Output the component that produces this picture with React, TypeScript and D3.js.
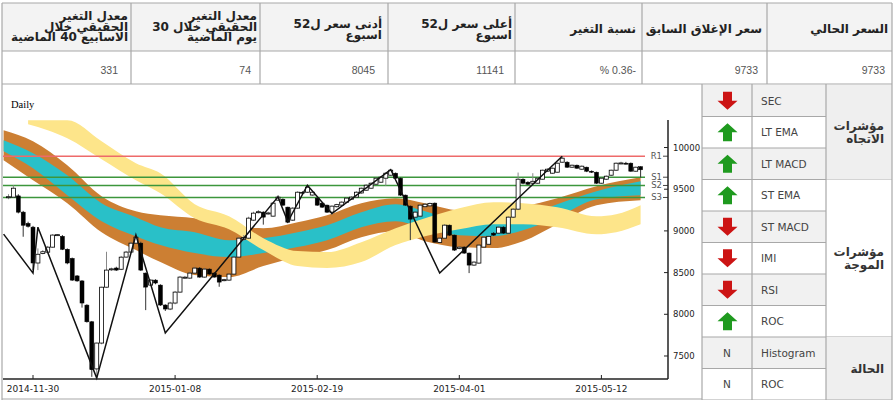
import React from "react";
import * as d3 from "d3";

// ---------- DATA ----------
const opens = [9400,9405,9420,9225,9090,9045,8615,8730,8745,8805,8945,8935,8780,8670,8460,8400,8110,7910,7345,7655,8325,8535,8555,8540,8686,8746,8853,8853,8494,8350,8410,8350,8111,8063,8135,8266,8435,8434,8494,8554,8446,8542,8494,8470,8405,8410,8482,8686,8900,8913,9129,9220,9225,9205,9177,9369,9380,9285,9129,9273,9464,9464,9430,9393,9333,9309,9225,9290,9309,9345,9380,9405,9455,9488,9512,9560,9584,9632,9668,9692,9632,9429,9297,9165,9177,9290,9300,9333,8860,8913,9069,8949,8790,8806,8734,8590,8614,8806,8840,8973,8973,9045,8973,9165,9261,9620,9584,9572,9572,9620,9716,9692,9704,9824,9824,9764,9788,9740,9764,9716,9704,9572,9620,9668,9728,9812,9812,9812,9716,9770];
const highs = [9440,9548,9440,9240,9110,9060,8790,8770,8820,8960,8960,8950,8790,8680,8470,8410,8120,7920,7660,8330,8750,8560,8570,8700,8760,8870,8950,8870,8500,8420,8420,8360,8120,8150,8280,8460,8460,8510,8570,8565,8555,8550,8505,8480,8425,8490,8700,8925,8950,9170,9230,9250,9235,9230,9345,9430,9390,9290,9285,9475,9475,9548,9480,9400,9340,9315,9305,9325,9355,9400,9415,9475,9520,9560,9580,9640,9655,9700,9740,9700,9640,9435,9305,9235,9320,9335,9340,9340,8920,9080,9075,8955,8815,8815,8740,8635,8840,8935,8945,8985,9055,9055,9175,9270,9700,9630,9595,9692,9640,9735,9750,9760,9820,9896,9835,9795,9795,9785,9770,9725,9710,9640,9665,9735,9820,9830,9828,9820,9770,9775];
const lows = [9380,9395,9210,8930,9040,8530,8530,8720,8735,8800,8940,8770,8600,8400,8390,8080,7900,7250,7235,7640,8320,8520,8520,8530,8680,8740,8845,8520,8050,8340,8360,8100,8040,8050,8120,8260,8425,8425,8485,8440,8440,8475,8440,8330,8395,8400,8475,8680,8880,8905,9120,9210,9075,9195,9170,9360,9300,9095,9120,9265,9445,9455,9420,9300,9275,9215,9190,9280,9300,9335,9370,9395,9445,9480,9505,9550,9575,9540,9660,9625,9420,9300,8890,9155,9170,9280,9290,8860,8850,8905,8940,8760,8780,8725,8494,8580,8605,8800,8830,8940,8965,8965,8965,9155,9250,9560,9550,9565,9565,9615,9710,9685,9700,9815,9755,9755,9745,9730,9705,9695,9565,9565,9610,9660,9720,9800,9798,9710,9710,9640];
const closes = [9410,9512,9225,9068,9055,8615,8720,8750,8805,8950,8955,8780,8615,8410,8400,8135,7910,7335,7655,8325,8530,8545,8530,8685,8746,8853,8925,8530,8326,8410,8375,8111,8063,8135,8266,8446,8445,8494,8554,8446,8542,8482,8446,8386,8415,8482,8686,8913,8920,9153,9213,9230,9165,9215,9333,9405,9309,9105,9273,9464,9455,9524,9464,9309,9285,9225,9297,9315,9345,9393,9405,9464,9512,9548,9572,9632,9644,9692,9728,9632,9429,9309,9141,9225,9309,9320,9330,8865,8913,9069,8949,8770,8805,8734,8590,8626,8830,8925,8935,8949,9045,8973,9165,9261,9620,9572,9560,9595,9632,9728,9740,9752,9812,9872,9764,9788,9752,9776,9716,9704,9572,9632,9656,9728,9812,9815,9810,9716,9764,9733];

const xTickIndex = [5, 34, 63, 92, 121];
const xTickLabels = ["2014-11-30", "2015-01-08", "2015-02-19", "2015-04-01", "2015-05-12"];
const yTicks = [7500, 8000, 8500, 9000, 9500, 10000];

const bandIndex = [-1, 5, 12, 19, 26, 31, 38, 45, 52, 59, 65, 72, 79, 85, 92, 99, 105, 112, 120, 129];
const outerTop = [10207,10075,9788,9417,9237,9189,9153,9057,9033,9105,9189,9333,9393,9333,9249,9261,9297,9393,9536,9644];
const innerTop = [10087,9932,9668,9333,9165,9045,8985,8889,8913,8985,9069,9225,9321,9237,9129,9117,9165,9321,9477,9596];
const innerBottom = [9956,9752,9429,9117,8937,8830,8734,8686,8734,8806,8889,9045,9117,9033,8949,8937,9009,9165,9381,9429];
const outerBottom = [9848,9608,9333,8985,8770,8626,8470,8446,8578,8686,8770,8925,8997,8877,8806,8794,8877,9081,9309,9369];

const cloudIndex = [4, 8, 12, 19, 26, 31, 38, 45, 52, 59, 65, 72, 79, 85, 92, 99, 105, 112, 120, 124, 129];
const cloudTop = [10327,10327,10327,10075,9812,9692,9321,9177,8913,8758,8746,8865,9033,9153,9273,9345,9333,9285,9177,9201,9309];
const cloudBottom = [10279,10207,10111,9860,9608,9453,9153,9021,8770,8578,8554,8626,8830,8937,9021,9081,9081,9045,8961,8985,9081];

const zigzagIndex = [-1, 5, 6, 18, 26, 32, 55, 57, 61, 66, 78, 88, 113];
const zigzagValue = [8961, 8494, 9045, 7235, 8950, 7775, 9408, 9109, 9548, 9209, 9736, 8494, 9896];

const levelNames = ["R1", "S1", "S2", "S3"];
const levelValues = [9896, 9644, 9545, 9401];
const levelColors = ["#ee6a6a", "#3c963c", "#3c963c", "#3c963c"];

// top table
const headerLines = [
  ["معدل التغير", "الحقيقي خلال", "الاسابيع 40 الماضية"],
  ["معدل التغير", "الحقيقي خلال 30", "يوم الماضية"],
  ["أدنى سعر ل52", "اسبوع"],
  ["أعلى سعر ل52", "اسبوع"],
  ["نسبة التغير"],
  ["سعر الإغلاق السابق"],
  ["السعر الحالي"],
];
const headerValues = ["331", "74", "8045", "11141", "% 0.36-", "9733", "9733"];

// indicator table
const indicatorNames = ["SEC", "LT EMA", "LT MACD", "ST EMA", "ST MACD", "IMI", "RSI", "ROC", "Histogram", "ROC"];
const indicatorSignals = ["down", "up", "up", "up", "down", "down", "down", "up", "N", "N"];
const groupLabels = [["مؤشرات", "الاتجاه"], ["مؤشرات", "الموجة"], ["الحالة"]];
const groupSpans = [[0, 3], [3, 8], [8, 10]];

// ---------- LAYOUT ----------
const W = 893, H = 400;
const colX = [2, 131, 260, 388, 515, 642, 767, 892];
const valueRight = [118, 251, 375, 504, 636, 758, 885];
const headerRight = [128, 257, 382, 512, 636, 762, 888];
const AR = "DejaVu Sans";
const plot = { left: 3, right: 668, top: 120, bottom: 379 };
const tbl = { x0: 702, x1: 752, x2: 826, x3: 892, top: 85, rowH: 31.5 };

export default function App() {
  const x = d3.scaleLinear().domain([0, 129]).range([8.5, 640.6]);
  const y = d3.scaleLinear().domain([7224, 10330]).range([plot.bottom, plot.top]);

  const bandArea = (top: number[], bot: number[], idx: number[]) =>
    d3.area<number>()
      .x((_, k) => x(idx[k]))
      .y0((_, k) => y(bot[k]))
      .y1((_, k) => y(top[k]))
      .curve(d3.curveMonotoneX)(idx) as string;

  const zig = d3.line<number>()
    .x((_, k) => x(zigzagIndex[k]))
    .y((v) => y(v))(zigzagValue) as string;

  const bw = 4;

  const arrow = (dir: string, cx: number, cy: number) => {
    const s = dir === "up" ? 1 : -1;
    const pts = [
      [0, -9], [10, 0], [4.5, 0], [4.5, 9], [-4.5, 9], [-4.5, 0], [-10, 0],
    ].map(([px, py]) => `${cx + px},${cy + s * py}`).join(" ");
    return <polygon points={pts} fill={dir === "up" ? "#1f9a1f" : "#cc1414"} />;
  };

  return (
    <div style={{ position: "absolute", left: 0, top: 0 }}>
      <svg width={W} height={H} style={{ display: "block", background: "#fff" }}>
        <defs>
          <clipPath id="plotclip">
            <rect x={plot.left} y={plot.top} width={plot.right - plot.left} height={plot.bottom - plot.top} />
          </clipPath>
        </defs>

        {/* ---------- top table ---------- */}
        <rect x={2} y={3} width={890} height={48} fill="#f3f3f3" />
        <rect x={2} y={51} width={890} height={33} fill="#fff" />
        {[3, 51, 84].map((yy) => (
          <line key={yy} x1={2} x2={892} y1={yy} y2={yy} stroke="#a8a8a8" strokeWidth={1.2} />
        ))}
        {colX.map((cx) => (
          <line key={cx} x1={cx} x2={cx} y1={3} y2={84} stroke="#a8a8a8" strokeWidth={1.2} />
        ))}
        {headerLines.map((lines, c) => {
          const n = lines.length;
          const ys = n === 3 ? [16, 26.5, 37] : n === 2 ? [24, 34.5] : [29];
          return lines.map((t, k) => (
            <text key={c + "-" + k} x={headerRight[c]} y={ys[k]} textAnchor="end" dominantBaseline="central"
              fontFamily={AR} fontSize={12} fontWeight="bold" fill="#222">{t}</text>
          ));
        })}
        {headerValues.map((t, c) => (
          <text key={"v" + c} x={valueRight[c]} y={70} textAnchor="end" dominantBaseline="central"
            fontFamily="Liberation Sans" fontSize={10.5} fill="#555">{t}</text>
        ))}

        {/* ---------- chart ---------- */}
        <line x1={2} x2={2} y1={84} y2={400} stroke="#a8a8a8" strokeWidth={1.2} />
        <line x1={2} x2={892} y1={399} y2={399} stroke="#a8a8a8" strokeWidth={1.2} />
        <text x={11} y={108} fontFamily="Liberation Serif" fontSize={10.5} fill="#000">Daily</text>

        <g clipPath="url(#plotclip)">
          <path d={bandArea(outerTop, outerBottom, bandIndex)} fill="#cc7f33" />
          <path d={bandArea(innerTop, innerBottom, bandIndex)} fill="#29c0c8" />
          <path d={bandArea(cloudTop, cloudBottom, cloudIndex)} fill="#fde58a" />
        </g>

        {levelValues.map((v, k) => (
          <g key={levelNames[k]}>
            <line x1={3} x2={645} y1={y(v)} y2={y(v)} stroke={levelColors[k]} strokeWidth={1.5} />
            <line x1={663} x2={668} y1={y(v)} y2={y(v)} stroke="#444" strokeWidth={1} />
            <text x={662} y={y(v)} textAnchor="end" dominantBaseline="central" fontFamily="DejaVu Sans"
              fontSize={8.5} fill="#555">{levelNames[k]}</text>
          </g>
        ))}

        {/* candles */}
        {closes.map((c, i) => {
          const o = opens[i];
          const up = c >= o;
          const cx = x(i);
          const top = y(Math.max(o, c));
          const bot = y(Math.min(o, c));
          return (
            <g key={"c" + i}>
              <line x1={cx} x2={cx} y1={y(highs[i])} y2={y(lows[i])} stroke={up ? "#888" : "#333"} strokeWidth={1} />
              <rect x={cx - bw / 2} y={top} width={bw} height={Math.max(1, bot - top)}
                fill={up ? "#fff" : "#000"} stroke="#000" strokeWidth={up ? 0.8 : 0.5} />
            </g>
          );
        })}

        <path d={zig} fill="none" stroke="#111" strokeWidth={1.5} />

        {/* axes */}
        <line x1={plot.left} x2={plot.right} y1={plot.bottom} y2={plot.bottom} stroke="#222" strokeWidth={1.5} />
        <line x1={plot.right} x2={plot.right} y1={plot.top} y2={plot.bottom} stroke="#222" strokeWidth={1.5} />
        {xTickIndex.map((ti, k) => (
          <g key={"xt" + k}>
            <line x1={x(ti)} x2={x(ti)} y1={plot.bottom - 4} y2={plot.bottom} stroke="#222" strokeWidth={1} />
            <text x={x(ti)} y={389} textAnchor="middle" dominantBaseline="central" fontFamily="DejaVu Sans"
              fontSize={9} fill="#222">{xTickLabels[k]}</text>
          </g>
        ))}
        {yTicks.map((v) => (
          <g key={"yt" + v}>
            <line x1={plot.right - 4} x2={plot.right} y1={y(v)} y2={y(v)} stroke="#222" strokeWidth={1} />
            <text x={673} y={y(v)} textAnchor="start" dominantBaseline="central" fontFamily="DejaVu Sans"
              fontSize={8.5} fill="#222">{v}</text>
          </g>
        ))}

        {/* ---------- indicator table ---------- */}
        {indicatorNames.map((nm, r) => {
          const y0 = tbl.top + r * tbl.rowH;
          const cy = y0 + tbl.rowH / 2;
          return (
            <g key={"r" + r}>
              <rect x={tbl.x0} y={y0} width={tbl.x2 - tbl.x0} height={tbl.rowH} fill={r % 2 === 0 ? "#f1f1f1" : "#fff"} />
              {indicatorSignals[r] === "N"
                ? <text x={(tbl.x0 + tbl.x1) / 2} y={cy} textAnchor="middle" dominantBaseline="central"
                    fontFamily="DejaVu Sans" fontSize={10.5} fill="#444">N</text>
                : arrow(indicatorSignals[r], (tbl.x0 + tbl.x1) / 2 + 0.5, cy)}
              <text x={761} y={cy} dominantBaseline="central" fontFamily="DejaVu Sans" fontSize={10.5} fill="#444">{nm}</text>
            </g>
          );
        })}
        {groupSpans.map(([a, b], g) => {
          const y0 = tbl.top + a * tbl.rowH;
          const y1 = tbl.top + b * tbl.rowH;
          const cy = (y0 + y1) / 2;
          const lines = groupLabels[g];
          const ys = lines.length === 2 ? [cy - 6.5, cy + 6.5] : [cy];
          return (
            <g key={"g" + g}>
              <rect x={tbl.x2} y={y0} width={tbl.x3 - tbl.x2} height={y1 - y0} fill={g === 1 ? "#fff" : "#efefef"} />
              {lines.map((t, k) => (
                <text key={k} x={884} y={ys[k]} textAnchor="end" dominantBaseline="central" fontFamily={AR}
                  fontSize={12} fontWeight="bold" fill="#333">{t}</text>
              ))}
              <line x1={tbl.x2} x2={tbl.x3} y1={y1} y2={y1} stroke="#a8a8a8" strokeWidth={1.2} />
            </g>
          );
        })}
        {indicatorNames.map((_, r) => {
          const yy = tbl.top + (r + 1) * tbl.rowH;
          return <line key={"h" + r} x1={tbl.x0} x2={tbl.x2} y1={yy} y2={yy} stroke="#a8a8a8" strokeWidth={1.2} />;
        })}
        {[tbl.x0, tbl.x1, tbl.x2, tbl.x3].map((xx) => (
          <line key={"vx" + xx} x1={xx} x2={xx} y1={84} y2={400} stroke="#a8a8a8" strokeWidth={1.2} />
        ))}
      </svg>
    </div>
  );
}
